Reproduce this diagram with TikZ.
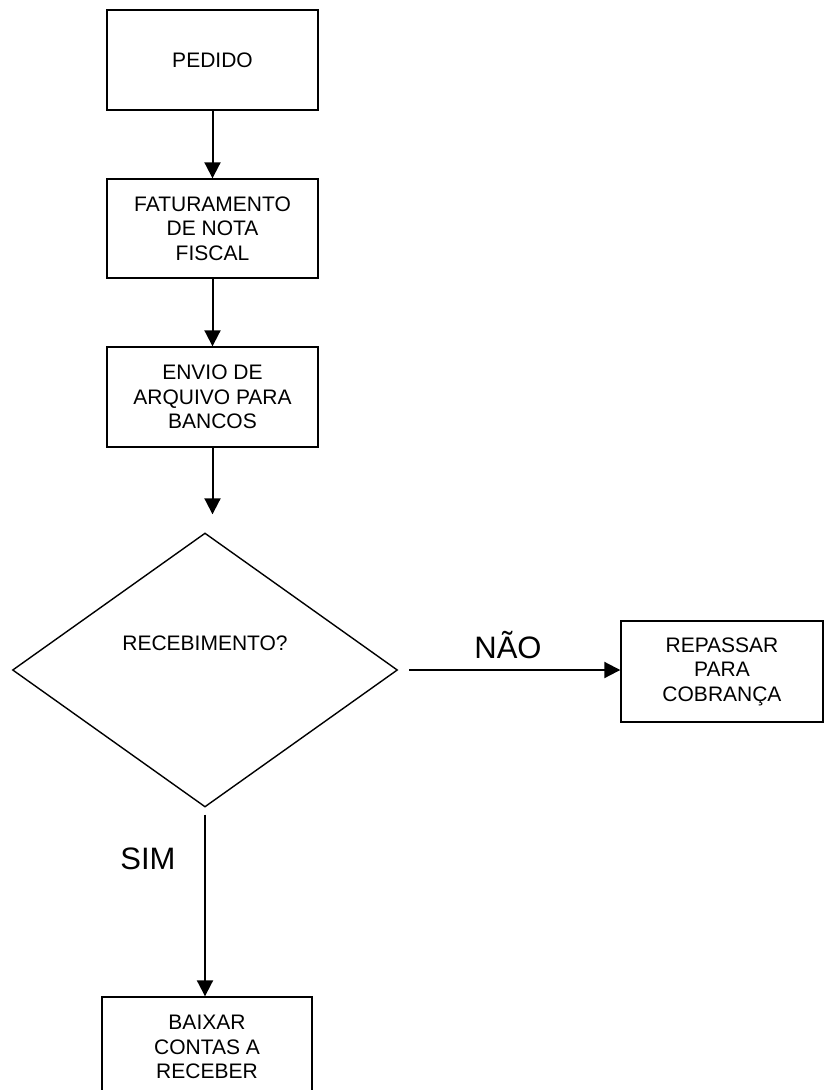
\documentclass[tikz,border=0pt]{standalone}
\usepackage{fontspec}
\setmainfont{Liberation Sans}
\usetikzlibrary{arrows.meta,shapes.geometric}
\begin{document}
\begin{tikzpicture}[x=1pt,y=-1pt,
  procbox/.style={draw,line width=1.4pt,minimum width=211pt,minimum height=100pt,inner sep=0pt,align=center,font=\fontsize{21}{24.5}\selectfont},
  flow/.style={line width=2pt,-{Triangle[length=16pt,width=16pt]}},
  biglabel/.style={font=\fontsize{31}{36}\selectfont,inner sep=0pt}]
\useasboundingbox (0,0) rectangle (824,1090);
\clip (0,0) rectangle (824,1090);
\node[procbox] (pedido) at (212.5,60) {PEDIDO};
\node[procbox,minimum height=99pt] (fat) at (212.5,228.5) {FATURAMENTO\\DE NOTA\\FISCAL};
\node[procbox] (envio) at (212.5,397) {ENVIO DE\\ARQUIVO PARA\\BANCOS};
\node[draw,diamond,line width=1.4pt,minimum width=385pt,minimum height=274pt,inner sep=0pt] (dia) at (205,670) {};
\node[font=\fontsize{21}{24.5}\selectfont,inner sep=0pt] (rectxt) at (205,643) {RECEBIMENTO?};
\node[procbox,minimum width=202pt,minimum height=101pt] (repassar) at (722,671.5) {REPASSAR\\PARA\\COBRANÇA};
\node[procbox,minimum width=210pt] (baixar) at (207,1047) {BAIXAR\\CONTAS A\\RECEBER};
\draw[flow] (pedido.south) -- (fat.north);
\draw[flow] (fat.south) -- (envio.north);
\draw[flow,shorten >=18pt] (envio.south) -- (envio.south |- dia.north);
\draw[flow,shorten <=11pt] (dia.east) -- (dia.east -| repassar.west);
\draw[flow,shorten <=7pt] (dia.south) -- (dia.south |- baixar.north);
\node[biglabel] (nao) at (508,645) {NÃO};
\node[biglabel] (sim) at (148,859) {SIM};
\end{tikzpicture}
\end{document}
